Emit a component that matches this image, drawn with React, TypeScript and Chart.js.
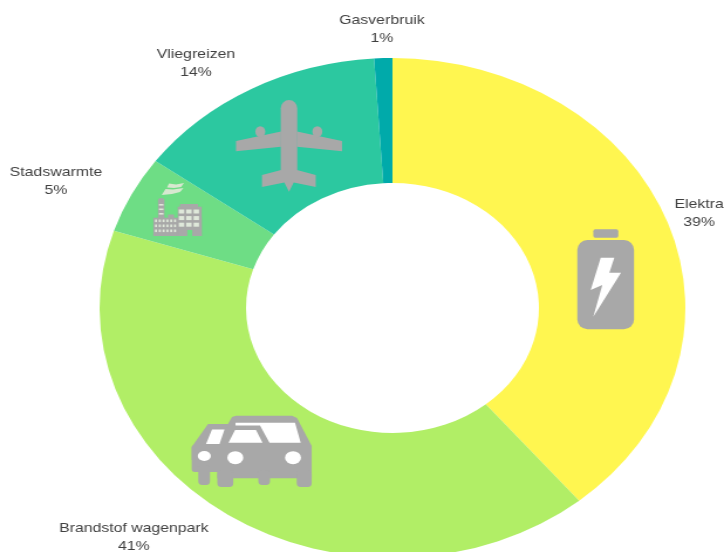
import React, { useEffect, useRef } from "react";
import { Chart, registerables } from "chart.js";

Chart.register(...registerables);

const categories = ["Elektra", "Brandstof wagenpark", "Stadswarmte", "Vliegreizen", "Gasverbruik"];
const shares = [39, 41, 5, 14, 1];
const sliceColors = ["#fff650", "#b1ee66", "#6edd85", "#2cc8a0", "#00aaaa"];

const STRETCH = 724 / 618;
const GRAY = "#a8a8a8";

// label centre relative to the chart centre, in units of the outer radius
const labelPlacement = [
  { x: 1.047, y: -0.38 },
  { x: -0.883, y: 0.916 },
  { x: -1.149, y: -0.508 },
  { x: -0.671, y: -0.98 },
  { x: -0.036, y: -1.116 },
];

function poly(ctx: CanvasRenderingContext2D, pts: number[][], color: string) {
  ctx.fillStyle = color;
  ctx.beginPath();
  pts.forEach((p, i) => (i ? ctx.lineTo(p[0], p[1]) : ctx.moveTo(p[0], p[1])));
  ctx.closePath();
  ctx.fill();
}
function rrect(ctx: CanvasRenderingContext2D, x: number, y: number, w: number, h: number, r: number, color: string) {
  ctx.fillStyle = color;
  ctx.beginPath();
  ctx.roundRect(x, y, w, h, r);
  ctx.fill();
}
function ell(ctx: CanvasRenderingContext2D, x: number, y: number, rx: number, ry: number, color: string) {
  ctx.fillStyle = color;
  ctx.beginPath();
  ctx.ellipse(x, y, rx, ry, 0, 0, Math.PI * 2);
  ctx.fill();
}

function drawPlane(ctx: CanvasRenderingContext2D) {
  rrect(ctx, 280.7, 100, 16.6, 80, 8.3, GRAY);
  poly(ctx, [[281, 131.5], [236, 141], [236, 151.3], [281, 146.7]], GRAY);
  poly(ctx, [[297, 131.5], [342, 141], [342, 151.3], [297, 146.7]], GRAY);
  ell(ctx, 260.3, 131.7, 5, 5.5, GRAY);
  ell(ctx, 317.3, 131.7, 5, 5.5, GRAY);
  poly(ctx, [[281, 170], [262, 175], [262, 187], [284.3, 182.5], [289, 191.7], [293.7, 182.5], [315.7, 187], [315.7, 175], [297, 170]], GRAY);
}

function drawFactory(ctx: CanvasRenderingContext2D) {
  const light = "#d8e8d0";
  const win = "#dfe8da";
  ctx.fillStyle = GRAY;
  ctx.fillRect(153.3, 217.7, 48.4, 18.3);
  ctx.fillRect(177.7, 206.7, 24, 29.3);
  ctx.fillRect(180, 204, 18, 3);
  ctx.fillRect(158, 200, 6.4, 18);
  ell(ctx, 161.2, 200, 3.2, 2, GRAY);
  ctx.fillRect(168, 214.5, 6, 3.5);
  ctx.fillStyle = "#6edd85";
  ctx.fillRect(187.3, 230, 5, 6);
  ctx.fillStyle = win;
  for (let r = 0; r < 3; r++) {
    for (let c = 0; c < 3; c++) ctx.fillRect(178.8 + c * 7.4, 209.5 + r * 6.6, 5.4, 4);
  }
  for (let r = 0; r < 3; r++) {
    for (let c = 0; c < 6; c++) ctx.fillRect(155 + c * 3.8, 219.5 + r * 5, 2, 2.6);
  }
  ctx.fillRect(159, 204, 4.4, 1.6);
  ctx.fillRect(159, 208.5, 4.4, 1.6);
  ctx.fillRect(159, 213, 4.4, 1.6);
  poly(ctx, [[169, 183.5], [176, 184.5], [184, 183], [181, 187], [174, 188], [167, 187.5]], light);
  poly(ctx, [[165.5, 189], [173, 189.5], [183.5, 188], [180, 192], [172, 194], [161.7, 195]], light);
}

function drawCars(ctx: CanvasRenderingContext2D) {
  rrect(ctx, 191.7, 445, 50, 27, 3, GRAY);
  poly(ctx, [[191.7, 447], [208, 424], [232, 424], [232, 460], [191.7, 460]], GRAY);
  rrect(ctx, 198.3, 465, 11.7, 20, 4, GRAY);
  poly(ctx, [[217.3, 447], [228, 424], [232, 417], [236, 415.7], [292, 415.7], [297, 418], [311.7, 446], [311.7, 478.3], [217.3, 478.3]], GRAY);
  rrect(ctx, 217.3, 470, 16, 17, 4, GRAY);
  rrect(ctx, 258.3, 470, 11.7, 15, 4, GRAY);
  rrect(ctx, 296.7, 470, 15, 17, 4, GRAY);
  poly(ctx, [[206, 444], [212, 429.5], [224.5, 429.5], [219.5, 444]], "#ffffff");
  poly(ctx, [[228.5, 442.7], [235, 430], [256, 430], [262.5, 442.7]], "#ffffff");
  poly(ctx, [[235.5, 422.7], [295, 422.7], [300.7, 442.7], [269.5, 442.7], [260, 425.5], [235.5, 425.5]], "#ffffff");
  ell(ctx, 204.3, 456, 6.5, 5, "#ffffff");
  ell(ctx, 235.3, 457.7, 8, 6.5, "#ffffff");
  ell(ctx, 293, 457.7, 8, 6.5, "#ffffff");
}

function drawBattery(ctx: CanvasRenderingContext2D) {
  rrect(ctx, 593.3, 229.3, 25, 8.5, 2, GRAY);
  rrect(ctx, 577.3, 240, 56.7, 89.3, 10, GRAY);
  poly(ctx, [[600.7, 257.7], [614.3, 257.7], [609.3, 272.7], [621, 272.7], [593.3, 316.7], [602.3, 285], [590.7, 290]], "#ffffff");
}

const decorations = {
  id: "decorations",
  afterDraw(chart: Chart) {
    const ctx = chart.ctx;
    const arc: any = chart.getDatasetMeta(0).data[0];
    const { x: cx, y: cy, outerRadius } = arc.getProps(["x", "y", "outerRadius"], true);

    ctx.save();
    ctx.scale(1 / STRETCH, 1);
    drawPlane(ctx);
    drawFactory(ctx);
    drawCars(ctx);
    drawBattery(ctx);
    ctx.restore();

    ctx.save();
    ctx.font = "13.5px 'Liberation Sans', Arial, sans-serif";
    ctx.fillStyle = "#404040";
    ctx.textAlign = "center";
    ctx.textBaseline = "middle";
    categories.forEach((name, i) => {
      const p = labelPlacement[i];
      const lx = cx + p.x * outerRadius;
      const ly = cy + p.y * outerRadius;
      ctx.fillText(name, lx, ly - 9);
      ctx.fillText(`${shares[i]}%`, lx, ly + 9);
    });
    ctx.restore();
  },
};

export default function App() {
  const ref = useRef<HTMLCanvasElement | null>(null);
  useEffect(() => {
    if (!ref.current) return;
    const chart = new Chart(ref.current, {
      type: "doughnut",
      data: {
        labels: categories,
        datasets: [{ data: shares, backgroundColor: sliceColors, borderWidth: 0 }],
      },
      options: {
        responsive: false,
        animation: false,
        cutout: "50%",
        layout: { padding: { left: 85, right: 33, top: 58, bottom: 0 } },
        plugins: { legend: { display: false }, tooltip: { enabled: false } },
      },
      plugins: [decorations],
    });
    return () => chart.destroy();
  }, []);
  return (
    <div style={{ position: "absolute", left: 0, top: 0, width: 724, height: 552, overflow: "hidden", background: "#fff" }}>
      <canvas
        ref={ref}
        width={618}
        height={558}
        style={{ display: "block", transformOrigin: "0 0", transform: `scaleX(${STRETCH})`, filter: "blur(0.5px)" }}
      />
    </div>
  );
}
